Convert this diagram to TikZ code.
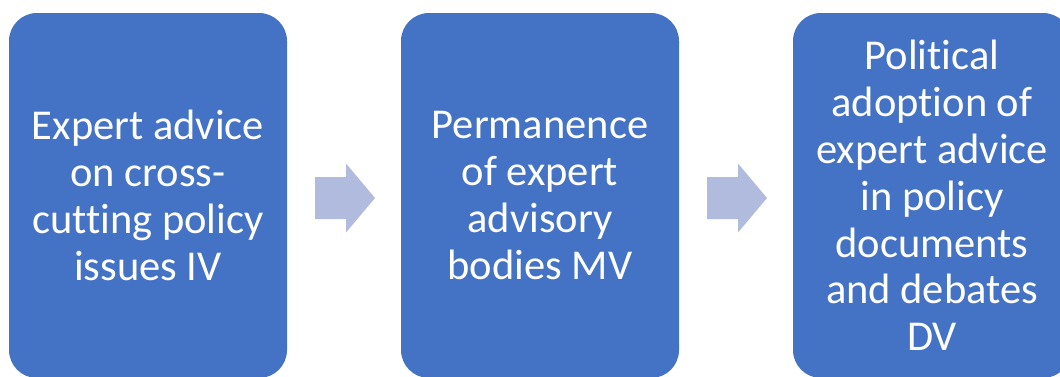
\documentclass[tikz,border=0pt]{standalone}
\usepackage{fontspec}
\setmainfont{Carlito}[Ligatures=NoCommon]
\usetikzlibrary{calc}
\definecolor{boxblue}{RGB}{68,114,196}
\definecolor{arrowblue}{RGB}{176,187,222}
\tikzset{
  stage/.style={rectangle, rounded corners=28pt, fill=boxblue, draw=none,
    minimum width=278pt, minimum height=365pt, inner sep=0pt,
    text=white, align=center, font=\fontsize{42.5}{46.8}\selectfont},
  blockarrow/.style={fill=arrowblue, draw=none}
}
\begin{document}
\begin{tikzpicture}[x=1pt,y=-1pt]
\useasboundingbox (0,0) rectangle (1060,376);
\clip (0,0) rectangle (1060,376);
\node[stage] (b1) at (148,195.5) {Expert advice\\on cross-\\cutting policy\\issues IV};
\node[stage] (b2) at (540,195.5) {Permanence\\of expert\\advisory\\bodies MV};
\node[stage] (b3) at (932,195.5) {Political\\adoption of\\expert advice\\in policy\\documents\\and debates\\DV};
\coordinate (a1) at ($(b1.east)!0.5!(b2.west)+(0,2.5)$);
\coordinate (a2) at ($(b2.east)!0.5!(b3.west)+(0,2.5)$);
\foreach \c in {a1,a2}{
  \fill[blockarrow] ($(\c)+(-29,-21)$) -- ($(\c)+(2,-21)$) -- ($(\c)+(2,-34.5)$)
    -- ($(\c)+(31,0)$) -- ($(\c)+(2,34.5)$) -- ($(\c)+(2,21)$) -- ($(\c)+(-29,21)$) -- cycle;
}
\end{tikzpicture}
\end{document}
